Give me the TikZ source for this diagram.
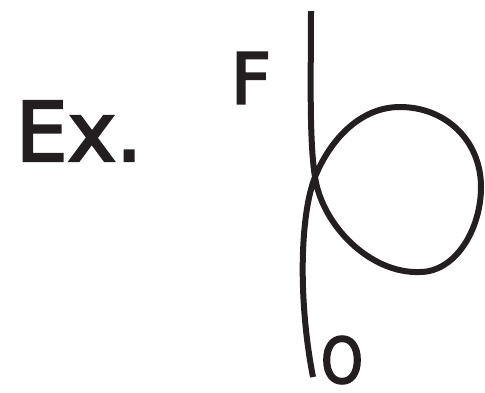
\documentclass[tikz,border=0pt]{standalone}
\usepackage{fontspec}
\setmainfont{DejaVu Sans}
\newfontfamily\thick{DejaVu Sans}[FakeBold=3]
\definecolor{ink}{HTML}{231F20}
\begin{document}
\begin{tikzpicture}[x=1pt,y=-1pt,
  lbl/.style={inner sep=0pt, text=ink, anchor=center},
  rope/.style={draw=ink, line width=6pt, line join=round}]
\useasboundingbox (0,0) rectangle (485,392);
\node[lbl, font=\thick\fontsize{82}{82}\selectfont] (ex) at (79,131) {Ex.};
\node[lbl, font=\thick\fontsize{70}{70}\selectfont] (f) at (251,78) {F};
\node[lbl, font=\thick\fontsize{63}{63}\selectfont, xscale=0.85] (o) at (342,360) {O};
\coordinate (top) at (311,11);
\coordinate (x) at (315,177);
\coordinate (bot) at (420,272);
\coordinate (rgt) at (481,187);
\coordinate (tp) at (400,107);
\coordinate (end) at (313,377);
\draw[rope] (top) .. controls (311,70) and (309,140) .. (x)
  .. controls (322,225) and (370,274) .. (bot)
  .. controls (455,272) and (481,230) .. (rgt)
  .. controls (481,140) and (445,107) .. (tp)
  .. controls (360,107) and (330,140) .. (x)
  .. controls (300,215) and (298,300) .. (end);
\end{tikzpicture}
\end{document}
